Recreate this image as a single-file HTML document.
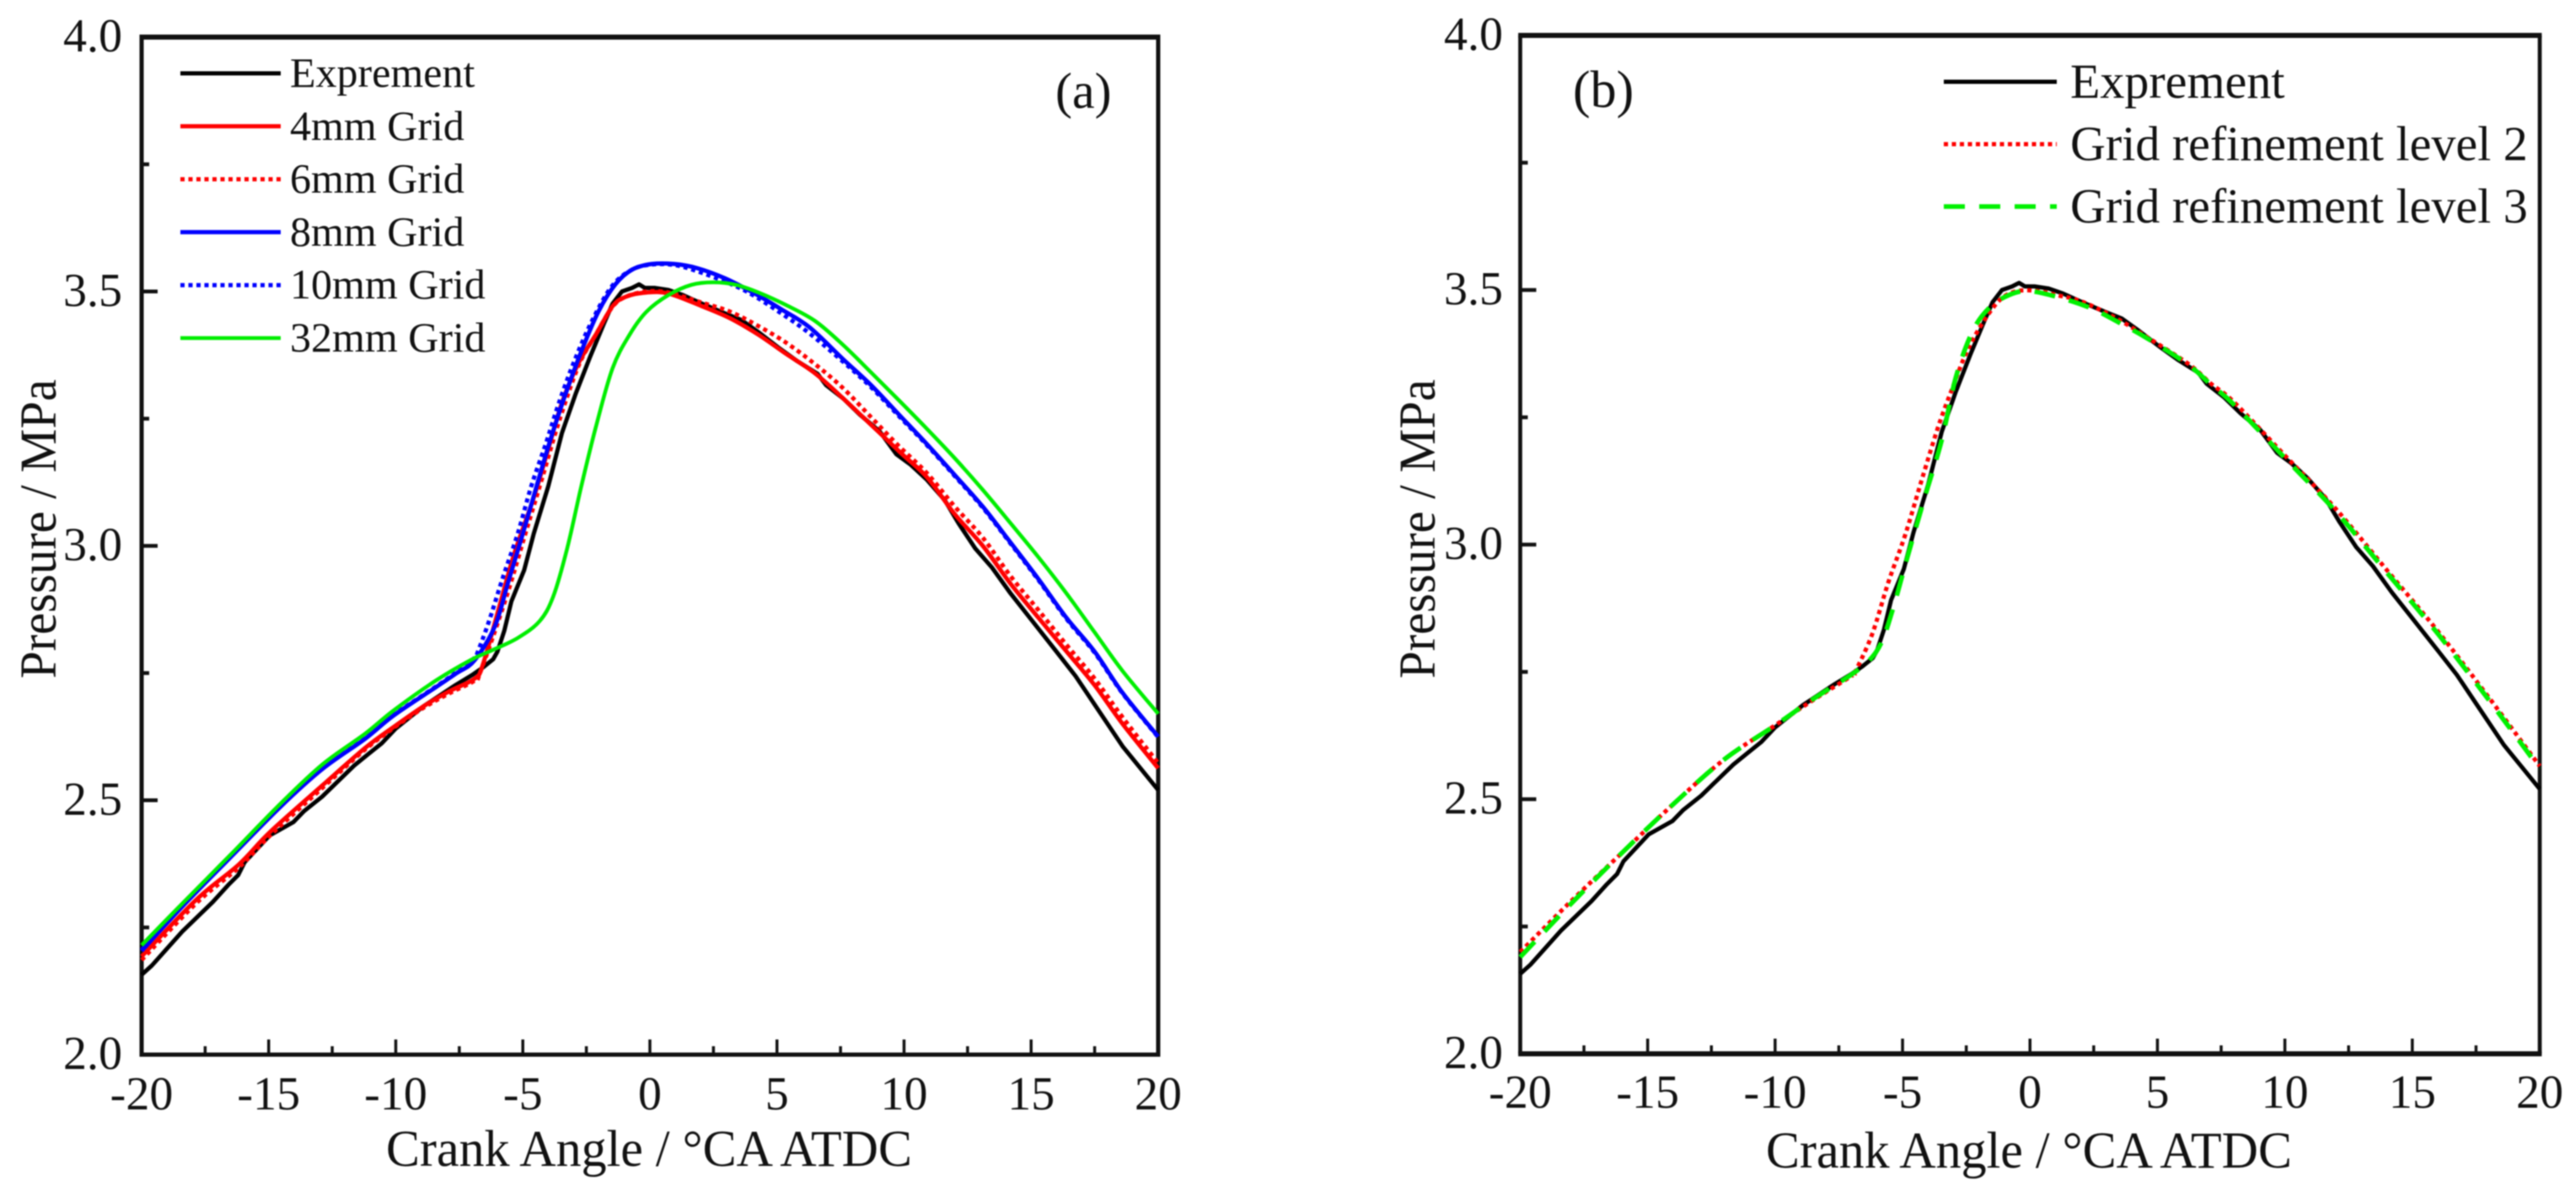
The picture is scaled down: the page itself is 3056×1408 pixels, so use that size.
<!DOCTYPE html>
<html lang="en">
<head>
<meta charset="utf-8">
<title>Pressure vs Crank Angle</title>
<style>
html,body{margin:0;padding:0;background:#fff;width:3056px;height:1408px;overflow:hidden}
svg{display:block;font-family:"Liberation Serif",serif;fill:#111;filter:blur(0.7px)}
text{fill:#111}
</style>
</head>
<body>
<svg id="chart" xmlns="http://www.w3.org/2000/svg" width="3056" height="1408" viewBox="0 0 3056 1408">
  <g id="panel-a">
    <text x="1252" y="128" font-size="60">(a)</text>
    <text x="458" y="1383" font-size="61" textLength="624" lengthAdjust="spacingAndGlyphs">Crank Angle / °CA ATDC</text>
    <text transform="translate(66,805) rotate(-90)" font-size="61" textLength="355" lengthAdjust="spacingAndGlyphs">Pressure / MPa</text>
  </g>
  <g id="panel-b">
    <text x="1866" y="127" font-size="62">(b)</text>
    <text x="2095" y="1385" font-size="61" textLength="624" lengthAdjust="spacingAndGlyphs">Crank Angle / °CA ATDC</text>
    <text transform="translate(1702,805) rotate(-90)" font-size="61" textLength="355" lengthAdjust="spacingAndGlyphs">Pressure / MPa</text>
  </g>
</svg>
<script>
// ---------- shared tick data ----------
const xMajorTicks = [-20,-15,-10,-5,0,5,10,15,20];
const xMinorTicks = [-17.5,-12.5,-7.5,-2.5,2.5,7.5,12.5,17.5];
const xTickLabels = ["-20","-15","-10","-5","0","5","10","15","20"];
const yMajorTicks = [2,2.5,3,3.5,4];
const yMinorTicks = [2.25,2.75,3.25,3.75];
const yTickLabels = ["2.0","2.5","3.0","3.5","4.0"];

// ---------- series values: [crank angle, pressure] ----------
const expPoints = [[-20,2.157],[-19.6,2.175],[-18.4,2.242],[-17.2,2.3],[-16.6,2.333],[-16.2,2.353],[-15.95,2.378],[-14.96,2.431],[-14.03,2.457],[-13.6,2.479],[-12.9,2.507],[-11.64,2.568],[-11.1,2.59],[-10.55,2.612],[-10,2.641],[-8.9,2.685],[-7.66,2.726],[-7,2.746],[-6.57,2.761],[-6.17,2.777],[-6,2.792],[-5.73,2.833],[-5.45,2.891],[-4.95,2.952],[-4.57,3.024],[-4,3.117],[-3.46,3.222],[-2.92,3.299],[-2.35,3.372],[-1.8,3.438],[-1.47,3.476],[-1.1,3.5],[-0.7,3.507],[-0.43,3.514],[-0.2,3.507],[0.18,3.507],[0.73,3.503],[1.3,3.493],[2.05,3.476],[2.95,3.457],[3.6,3.444],[4.27,3.42],[5.05,3.39],[5.8,3.363],[6.6,3.338],[6.93,3.316],[7.6,3.29],[8.26,3.258],[9.04,3.225],[9.7,3.18],[10.25,3.16],[10.9,3.13],[11.6,3.09],[12.15,3.044],[12.8,2.995],[13.45,2.958],[14.2,2.906],[15.1,2.849],[16,2.792],[16.75,2.744],[17.5,2.688],[18.6,2.606],[19.3,2.563],[20,2.52]];
const grid4Points = [[-20,2.193],[-17.84,2.305],[-16.17,2.374],[-14.96,2.437],[-12.87,2.53],[-11.2,2.603],[-10,2.647],[-8.9,2.685],[-7.9,2.714],[-6.9,2.739],[-6.57,2.767],[-5.9,2.885],[-5.34,2.984],[-4.57,3.095],[-4,3.19],[-3.45,3.283],[-2.8,3.36],[-2.13,3.415],[-1.47,3.471],[-0.93,3.49],[-0.14,3.498],[0.73,3.496],[2.05,3.471],[3.17,3.447],[4.27,3.415],[5.37,3.377],[6.5,3.339],[7.6,3.29],[9.8,3.186],[10.9,3.135],[12,3.062],[13.1,3],[14.2,2.925],[15.3,2.858],[16.4,2.792],[17.5,2.726],[18.6,2.65],[20,2.563]];
const grid6Points = [[-20,2.186],[-17.84,2.298],[-16.17,2.368],[-14.96,2.43],[-12.87,2.525],[-11.2,2.6],[-10,2.645],[-8.9,2.682],[-7.9,2.71],[-6.9,2.735],[-6.67,2.752],[-5.67,2.896],[-4.9,3.024],[-4.24,3.133],[-3.58,3.244],[-2.8,3.355],[-2.13,3.415],[-1.47,3.47],[-0.93,3.49],[-0.14,3.5],[0.73,3.498],[2.05,3.478],[3.17,3.46],[4.27,3.432],[5.37,3.399],[6.5,3.357],[7.6,3.31],[8.7,3.253],[9.8,3.196],[10.9,3.143],[12,3.077],[13.1,3.016],[14.2,2.94],[15.3,2.873],[16.4,2.805],[17.5,2.739],[18.6,2.663],[20,2.573]];
const grid8Points = [[-20,2.204],[-18.38,2.292],[-16.5,2.388],[-14.5,2.489],[-12.87,2.562],[-11.2,2.621],[-10.1,2.666],[-8.4,2.723],[-7.6,2.75],[-6.9,2.775],[-6.1,2.842],[-5.57,2.93],[-5,3.024],[-4.46,3.117],[-3.9,3.211],[-3.35,3.294],[-2.7,3.382],[-2.03,3.46],[-1.36,3.514],[-0.7,3.543],[0.07,3.554],[0.96,3.554],[1.85,3.546],[2.95,3.526],[4.05,3.498],[5.17,3.465],[6.27,3.43],[7.6,3.367],[8.7,3.316],[9.8,3.258],[10.9,3.2],[12,3.139],[13.1,3.077],[14.2,3.006],[15.3,2.934],[16.4,2.858],[17.5,2.792],[18.6,2.711],[20,2.625]];
const grid10Points = [[-20,2.206],[-18.38,2.294],[-16.5,2.39],[-14.5,2.49],[-12.87,2.563],[-11.2,2.622],[-10.1,2.667],[-8.4,2.724],[-7.6,2.752],[-6.9,2.78],[-6.77,2.792],[-6.33,2.852],[-5.77,2.94],[-5.2,3.024],[-4.67,3.117],[-4.1,3.2],[-3.6,3.278],[-3,3.36],[-2.3,3.44],[-1.5,3.51],[-0.7,3.543],[0.07,3.553],[0.96,3.552],[1.85,3.54],[3.17,3.515],[4.05,3.493],[5.17,3.457],[6.27,3.418],[7.6,3.362],[8.7,3.312],[9.8,3.255],[10.9,3.198],[12,3.137],[13.1,3.075],[14.2,3.004],[15.3,2.932],[16.4,2.856],[17.5,2.79],[18.6,2.71],[20,2.624]];
const grid32Points = [[-20,2.215],[-18.38,2.298],[-16.5,2.393],[-14.5,2.495],[-12.87,2.571],[-11.2,2.631],[-10.1,2.676],[-8.4,2.736],[-7,2.777],[-6.2,2.795],[-5.2,2.819],[-4.34,2.852],[-3.8,2.901],[-3.25,2.996],[-2.7,3.117],[-2.13,3.233],[-1.47,3.349],[-0.8,3.415],[-0.14,3.46],[0.73,3.493],[1.63,3.513],[2.5,3.518],[3.4,3.513],[4.27,3.498],[5.37,3.473],[6.5,3.442],[7.6,3.395],[8.7,3.341],[9.8,3.286],[10.9,3.23],[12,3.172],[13.1,3.11],[14.2,3.044],[15.3,2.977],[16.4,2.906],[17.5,2.83],[18.6,2.754],[20,2.67]];
const level2Points = [[-20,2.2],[-18,2.3],[-16,2.395],[-14,2.49],[-12,2.578],[-10,2.645],[-8.5,2.695],[-7,2.742],[-6.88,2.748],[-6.2,2.823],[-5.55,2.927],[-4.89,3.02],[-4.23,3.13],[-3.57,3.236],[-3,3.313],[-2.47,3.38],[-1.8,3.44],[-1.15,3.482],[-0.5,3.498],[0.3,3.498],[1.06,3.49],[2.05,3.477],[3.37,3.445],[4.7,3.404],[6.24,3.354],[7.1,3.316],[8,3.28],[10,3.175],[12,3.07],[14,2.95],[16,2.83],[18,2.7],[20,2.565]];
const level3Points = [[-20,2.19],[-18,2.295],[-16,2.395],[-14,2.49],[-12,2.578],[-10,2.645],[-8.5,2.697],[-7,2.745],[-6.3,2.773],[-5.8,2.811],[-5.33,2.882],[-4.8,2.977],[-4.13,3.093],[-3.47,3.204],[-2.9,3.33],[-2.25,3.419],[-1.6,3.465],[-0.83,3.49],[-0.07,3.498],[1.03,3.487],[2.36,3.465],[3.46,3.437],[4.7,3.402],[6.24,3.352],[7.1,3.314],[8,3.275],[10,3.17],[12,3.065],[14,2.945],[16,2.825],[18,2.695],[20,2.56]];

// ---------- legend text ----------
const legendA = ["Exprement","4mm Grid","6mm Grid","8mm Grid","10mm Grid","32mm Grid"];
const legendB = ["Exprement","Grid refinement level 2","Grid refinement level 3"];

// ---------- rendering ----------
const SVGNS = "http://www.w3.org/2000/svg";
const STYLE = {
  black:{stroke:"#000",w:5},
  red:{stroke:"#ff0000",w:5},
  redDot:{stroke:"#ff0000",w:5,dash:"5 4.5"},
  blue:{stroke:"#0000ff",w:5},
  blueDot:{stroke:"#0000ff",w:5,dash:"5 4.5"},
  green:{stroke:"#00ee00",w:4.5},
  greenDash:{stroke:"#00f000",w:5.5,dash:"25 17"}
};

function mk(tag, attrs, parent){
  const n = document.createElementNS(SVGNS, tag);
  for (const k in attrs) n.setAttribute(k, attrs[k]);
  parent.appendChild(n);
  return n;
}
function scales(box){
  return {
    x: v => box.left + (v + 20) / 40 * (box.right - box.left),
    y: v => box.bottom - (v - 2) / 2 * (box.bottom - box.top)
  };
}
function linePath(points, s){
  return "M" + points.map(p => s.x(p[0]).toFixed(2) + " " + s.y(p[1]).toFixed(2)).join("L");
}
function smoothPath(points, s){
  const q = points.map(p => [s.x(p[0]), s.y(p[1])]);
  let d = "M" + q[0][0].toFixed(2) + " " + q[0][1].toFixed(2);
  for (let i = 0; i < q.length - 1; i++){
    const a = q[Math.max(0,i-1)], b = q[i], c = q[i+1], e = q[Math.min(q.length-1,i+2)];
    const c1x = b[0] + (c[0]-a[0])/6, c1y = b[1] + (c[1]-a[1])/6;
    const c2x = c[0] - (e[0]-b[0])/6, c2y = c[1] - (e[1]-b[1])/6;
    d += "C" + c1x.toFixed(2) + " " + c1y.toFixed(2) + " " + c2x.toFixed(2) + " " + c2y.toFixed(2) + " " + c[0].toFixed(2) + " " + c[1].toFixed(2);
  }
  return d;
}
function strokeAttrs(st){
  const a = {fill:"none",stroke:st.stroke,"stroke-width":st.w,"stroke-linejoin":"round"};
  if (st.dash) a["stroke-dasharray"] = st.dash;
  return a;
}

function drawAxes(g, box, prefix){
  const s = scales(box);
  const frame = [
    ["left",box.left,box.top,box.left,box.bottom,box.wl],
    ["right",box.right,box.top,box.right,box.bottom,box.wl],
    ["top",box.left-box.wl/2,box.top,box.right+box.wl/2,box.top,box.wt],
    ["bottom",box.left-box.wl/2,box.bottom,box.right+box.wl/2,box.bottom,box.wb]
  ];
  frame.forEach(f => {
    const l = mk("line",{x1:f[1],y1:f[2],x2:f[3],y2:f[4],stroke:"#111","stroke-width":f[5]},g);
    
    
  });
  xMajorTicks.forEach((v,i) => {
    if (i > 0 && i < xMajorTicks.length - 1){
      const t = mk("line",{x1:s.x(v),x2:s.x(v),y1:box.bottom,y2:box.bottom-18,stroke:"#111","stroke-width":3.5},g);
      
      
    }
    const lab = mk("text",{x:s.x(v),y:box.xBase,"font-size":56,"text-anchor":"middle"},g);
    lab.textContent = xTickLabels[i];
    
    
  });
  xMinorTicks.forEach(v => {
    const t = mk("line",{x1:s.x(v),x2:s.x(v),y1:box.bottom,y2:box.bottom-10,stroke:"#111","stroke-width":3.5},g);
    
    
  });
  yMajorTicks.forEach((v,i) => {
    if (i > 0 && i < yMajorTicks.length - 1){
      const t = mk("line",{x1:box.left,x2:box.left+19,y1:s.y(v),y2:s.y(v),stroke:"#111","stroke-width":4.5},g);
      
      
    }
    const lab = mk("text",{x:box.yRight,y:s.y(v)+box.yOff,"font-size":56,"text-anchor":"end"},g);
    lab.textContent = yTickLabels[i];
    
    
  });
  yMinorTicks.forEach(v => {
    const t = mk("line",{x1:box.left,x2:box.left+9,y1:s.y(v),y2:s.y(v),stroke:"#111","stroke-width":4.5},g);
    
    
  });
}
function drawSeries(g, box, points, styleKey, name, raw){
  const s = scales(box);
  const st = STYLE[styleKey];
  const attrs = strokeAttrs(st);
  attrs.d = raw ? linePath(points, s) : smoothPath(points, s);
  const p = mk("path", attrs, g);
  
  
}
function drawLegend(g, labels, keys, lg, prefix){
  labels.forEach((txt,i) => {
    const y = lg.y0 + i * lg.dy;
    const l = mk("line",Object.assign({x1:lg.x1,x2:lg.x2,y1:y,y2:y},strokeAttrs(STYLE[keys[i]])),g);
    
    
    const t = mk("text",{x:lg.tx,y:y+lg.base,"font-size":lg.fs},g);
    t.textContent = txt;
    
    
  });
}

const boxA = {left:168,right:1374,top:44,bottom:1251,wl:5,wt:6,wb:5,xBase:1316,yRight:145,yOff:17};
const boxB = {left:1803.5,right:3013,top:42,bottom:1250,wl:4.7,wt:6,wb:6,xBase:1314,yRight:1783,yOff:17};
const gA = document.getElementById("panel-a");
const gB = document.getElementById("panel-b");

drawAxes(gA, boxA, "panel-a");
drawSeries(gA, boxA, expPoints, "black", "panel-a-series-exprement", true);
drawSeries(gA, boxA, grid4Points, "red", "panel-a-series-4mm-grid");
drawSeries(gA, boxA, grid6Points, "redDot", "panel-a-series-6mm-grid");
drawSeries(gA, boxA, grid8Points, "blue", "panel-a-series-8mm-grid");
drawSeries(gA, boxA, grid10Points, "blueDot", "panel-a-series-10mm-grid");
drawSeries(gA, boxA, grid32Points, "green", "panel-a-series-32mm-grid");
drawLegend(gA, legendA, ["black","red","redDot","blue","blueDot","green"], {x1:214,x2:333,y0:87,dy:62.8,tx:344,base:16,fs:50}, "panel-a");

drawAxes(gB, boxB, "panel-b");
drawSeries(gB, boxB, expPoints, "black", "panel-b-series-exprement", true);
drawSeries(gB, boxB, level2Points, "redDot", "panel-b-series-level-2");
drawSeries(gB, boxB, level3Points, "greenDash", "panel-b-series-level-3");
drawLegend(gB, legendB, ["black","redDot","greenDash"], {x1:2306,x2:2440,y0:97,dy:74,tx:2456,base:19,fs:58}, "panel-b");
</script>
</body>
</html>
